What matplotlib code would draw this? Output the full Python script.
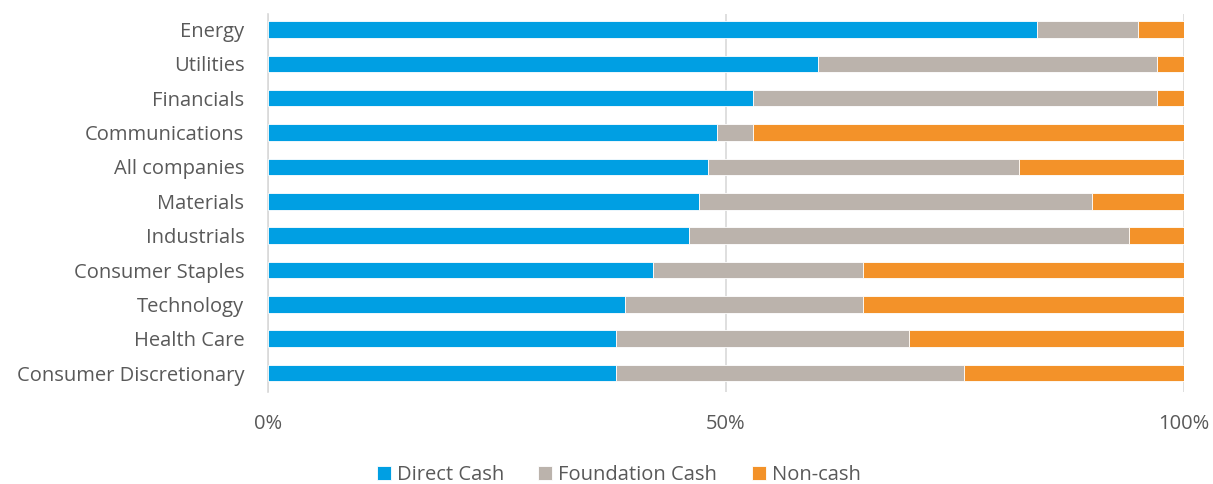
import matplotlib.pyplot as plt
import numpy as np

# sectors, top to bottom as drawn
sectors = ['Energy', 'Utilities', 'Financials', 'Communications', 'All companies',
           'Materials', 'Industrials', 'Consumer Staples', 'Technology',
           'Health Care', 'Consumer Discretionary']
direct_cash = [84, 60, 53, 49, 48, 47, 46, 42, 39, 38, 38]
foundation_cash = [11, 37, 44, 4, 34, 43, 48, 23, 26, 32, 38]
non_cash = [5, 3, 3, 47, 18, 10, 6, 35, 35, 30, 24]

plt.rcParams['font.family'] = ['Open Sans', 'DejaVu Sans']
txt = '#595959'

fig = plt.figure(figsize=(12.13, 4.84), dpi=100)
ax = fig.add_axes([268/1213, 1-392/484, (1184-268)/1213, 378/484])

y = np.arange(len(sectors))[::-1]
d = np.array(direct_cash)
f = np.array(foundation_cash)
n = np.array(non_cash)
h = 0.48
ax.barh(y, d, height=h, color='#009FE3', edgecolor='white', linewidth=0.6, label='Direct Cash', zorder=3)
ax.barh(y, f, left=d, height=h, color='#BBB3AC', edgecolor='white', linewidth=0.6, label='Foundation Cash', zorder=3)
ax.barh(y, n, left=d+f, height=h, color='#F39229', edgecolor='white', linewidth=0.6, label='Non-cash', zorder=3)

ax.set_xlim(0, 100)
ax.set_ylim(-0.55, len(sectors)-0.55)
ax.set_yticks(y)
ax.set_yticklabels(sectors, fontsize=14.5, color=txt)
ax.set_xticks([0, 50, 100])
ax.set_xticklabels(['0%', '50%', '100%'], fontsize=14.5, color=txt)
ax.tick_params(axis='x', length=0, pad=16)
ax.tick_params(axis='y', length=0, pad=17)
ax.xaxis.grid(True, color='#D9D9D9', linewidth=1.2, zorder=0)
for s in ['top', 'right', 'bottom']:
    ax.spines[s].set_visible(False)
ax.spines['left'].set_color('#D9D9D9')
ax.spines['left'].set_linewidth(1.2)

leg = fig.legend(loc='lower center', bbox_to_anchor=(0.51, -0.04), ncol=3, frameon=False,
                 fontsize=14.5, handlelength=0.7, handleheight=0.7, handletextpad=0.3,
                 columnspacing=1.7)
for t in leg.get_texts():
    t.set_color(txt)

fig.savefig('out.png', dpi=100)
